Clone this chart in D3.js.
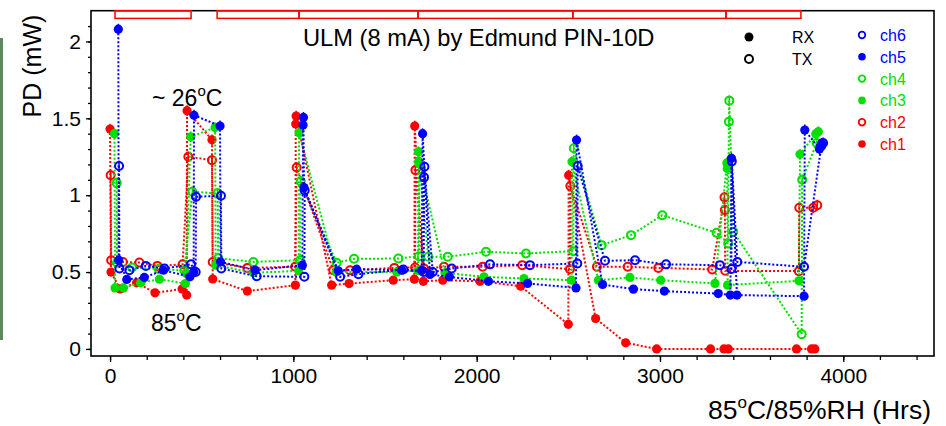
<!DOCTYPE html>
<html>
<head>
<meta charset="utf-8">
<script src="https://cdn.jsdelivr.net/npm/d3@7"></script>
<style>
  body { margin: 0; background: #fff; }
  svg { display: block; }
  text { font-family: "Liberation Sans", Arial, sans-serif; }
</style>
</head>
<body>
<div id="chart"></div>
<script>
// datos: [horas, mW]
const ch1 = [[0,1.43],[5,0.50],[55,0.39],[145,0.43],[245,0.365],[393,0.39],[418,0.35],[420,1.55],[556,1.36],[560,0.455],
  [749,0.376],[1011,0.415],[1013,1.463],[1015,1.515],[1209,0.415],[1304,0.425],[1545,0.447],[1660,0.454],[1662,1.45],
  [1709,0.44],[1815,0.447],[2018,0.44],[2240,0.408],[2500,0.16],[2502,1.13],[2649,0.198],[2813,0.04],[2982,0.0],
  [3276,0],[3349,0],[3373,0],[3745,0],[3827,0],[3845,0]];
const ch2 = [[3,1.13],[6,0.577],[70,0.566],[160,0.562],[258,0.54],[396,0.55],[427,1.25],[556,1.228],[560,0.566],
  [749,0.527],[1010,0.534],[1018,1.18],[1218,0.512],[1309,0.512],[1551,0.527],[1664,0.53],[1666,1.163],[1713,0.523],
  [1822,0.534],[2033,0.534],[2249,0.545],[2509,0.519],[2511,1.06],[2656,0.534],[2824,0.534],[2991,0.527],[3285,0.517],
  [3352,0.986],[3354,0.903],[3356,0.508],[3758,0.506],[3760,0.918],[3836,0.918],[3858,0.935]];
const ch3 = [[24,1.40],[27,0.397],[73,0.397],[167,0.43],[269,0.454],[411,0.425],[415,0.49],[440,1.38],[573,1.44],
  [576,0.545],[782,0.495],[1029,0.508],[1031,1.406],[1233,0.50],[1564,0.50],[1680,0.51],[1682,1.283],[1684,1.22],
  [1827,0.495],[2040,0.469],[2258,0.458],[2518,0.447],[2520,1.218],[2664,0.447],[2836,0.465],[3004,0.447],[3300,0.426],
  [3365,1.21],[3367,1.174],[3369,0.415],[3758,0.443],[3764,1.266],[3850,1.40],[3864,1.413]];
const ch4 = [[36,1.08],[38,0.56],[120,0.53],[265,0.52],[405,0.51],[449,1.022],[587,1.012],[590,0.59],[782,0.566],
  [1036,0.577],[1040,1.09],[1236,0.56],[1331,0.586],[1573,0.588],[1685,0.603],[1687,1.207],[1736,0.6],[1842,0.6],
  [2051,0.632],[2269,0.621],[2527,0.636],[2530,1.305],[2682,0.675],[2842,0.74],[3013,0.87],[3309,0.755],[3372,0.686],
  [3376,1.478],[3378,1.615],[3400,0.762],[3773,0.096],[3776,1.10],[3855,1.34]];
const ch5 = [[45,2.08],[47,0.577],[91,0.452],[187,0.465],[291,0.512],[436,0.469],[456,0.50],[458,1.52],[600,1.45],
  [603,0.566],[791,0.512],[1049,0.545],[1053,1.456],[1055,1.506],[1058,1.05],[1245,0.508],[1345,0.519],[1591,0.512],
  [1700,0.51],[1705,1.40],[1745,0.484],[1851,0.469],[2064,0.44],[2278,0.426],[2542,0.397],[2545,1.359],[2687,0.419],
  [2855,0.389],[3024,0.376],[3318,0.36],[3384,0.35],[3390,1.24],[3420,0.35],[3786,0.343],[3790,1.424],[3870,1.30],[3882,1.337]];
const ch6 = [[49,1.19],[51,0.523],[105,0.512],[195,0.54],[296,0.523],[442,0.55],[467,0.50],[469,0.99],[605,0.996],
  [607,0.523],[800,0.473],[1060,0.469],[1062,1.03],[1255,0.469],[1355,0.486],[1600,0.517],[1711,0.50],[1713,1.116],
  [1715,1.185],[1760,0.50],[1864,0.523],[2073,0.55],[2291,0.545],[2549,0.556],[2551,1.19],[2700,0.573],[2864,0.577],
  [3033,0.55],[3327,0.545],[3390,0.52],[3392,1.22],[3422,0.566],[3786,0.534],[3880,1.32],[3890,1.34]];

// periodos a 85C (cajas rojas de arriba)
const periodos = [[27,442],[584,1031],[1031,1680],[1680,2525],[2525,3360],[3360,3769]];

const xTicks = [0, 1000, 2000, 3000, 4000];
const yTicks = [0, 0.5, 1, 1.5, 2];

const series = [
  {name:'ch1', data:ch1, color:'#ff0000', filled:true},
  {name:'ch2', data:ch2, color:'#ff0000', filled:false},
  {name:'ch3', data:ch3, color:'#00e000', filled:true},
  {name:'ch4', data:ch4, color:'#00e000', filled:false},
  {name:'ch5', data:ch5, color:'#0000ff', filled:true},
  {name:'ch6', data:ch6, color:'#0000ff', filled:false}
];

const width = 946, height = 426;
const marginLeft = 91, marginRight = 934, marginTop = 10.7, marginBottom = 356;

const svg = d3.select('#chart').append('svg')
  .attr('width', width).attr('height', height);

// franja verde del borde izquierdo (recorte de la imagen original)
svg.append('rect').attr('x', 0).attr('y', 38).attr('width', 3).attr('height', 302)
  .attr('fill', '#5d8a5d');

const x = d3.scaleLinear().domain([-104, 4495]).range([marginLeft, marginRight]);
const y = d3.scaleLinear().domain([-0.046, 2.2]).range([marginBottom, marginTop]);

// ejes
const axisX = d3.axisBottom(x).tickValues(xTicks).tickSize(6).tickPadding(6).tickFormat(d3.format('d'));
const gx = svg.append('g').attr('transform', `translate(0,${marginBottom})`).call(axisX);
const axisXmin = d3.axisBottom(x).tickValues(d3.range(0, 4401, 200)).tickSize(4).tickFormat('');
svg.append('g').attr('transform', `translate(0,${marginBottom})`).call(axisXmin);

const axisY = d3.axisLeft(y).tickValues(yTicks).tickSize(5).tickPadding(5).tickFormat(d => d);
const gy = svg.append('g').attr('transform', `translate(${marginLeft},0)`).call(axisY);
const axisYmin = d3.axisLeft(y).tickValues(d3.range(0, 2.11, 0.1)).tickSize(3).tickFormat('');
svg.append('g').attr('transform', `translate(${marginLeft},0)`).call(axisYmin);

svg.selectAll('.domain').remove();
svg.selectAll('.tick line').attr('stroke', '#000').attr('stroke-width', 1.3);
svg.selectAll('.tick text').attr('font-size', 21).attr('fill', '#000')
  .style('font-family', '"Liberation Sans", Arial, sans-serif');

// marco
svg.append('rect').attr('x', marginLeft).attr('y', marginTop)
  .attr('width', marginRight - marginLeft).attr('height', marginBottom - marginTop)
  .attr('fill', 'none').attr('stroke', '#000').attr('stroke-width', 1.6);

// cajas rojas
svg.selectAll('.periodo').data(periodos).enter().append('rect')
  .attr('class', 'periodo')
  .attr('x', d => x(d[0])).attr('y', y(2.2))
  .attr('width', d => x(d[1]) - x(d[0])).attr('height', y(2.15) - y(2.2))
  .attr('fill', 'none').attr('stroke', '#ff0000').attr('stroke-width', 1.5);

const line = d3.line().x(d => x(d[0])).y(d => y(d[1]));
const err = 0.035;

series.forEach(s => {
  const g = svg.append('g');
  g.append('path')
    .attr('d', line(s.data))
    .attr('fill', 'none')
    .attr('stroke', s.color)
    .attr('stroke-width', 2)
    .attr('stroke-dasharray', '2,2');

  // barras de error en las medidas a temperatura ambiente
  g.selectAll('.err').data(s.data.filter(d => d[1] > 0.9)).enter().append('line')
    .attr('x1', d => x(d[0])).attr('x2', d => x(d[0]))
    .attr('y1', d => y(d[1] - err)).attr('y2', d => y(d[1] + err))
    .attr('stroke', s.color).attr('stroke-width', 1.5);

  g.selectAll('circle').data(s.data).enter().append('circle')
    .attr('cx', d => x(d[0])).attr('cy', d => y(d[1]))
    .attr('r', s.filled ? 4.6 : 4)
    .attr('fill', s.filled ? s.color : 'none')
    .attr('stroke', s.color)
    .attr('stroke-width', s.filled ? 0 : 2);
});

// titulo
svg.append('text').attr('x', 303).attr('y', 46).attr('font-size', 23.7)
  .text('ULM (8 mA) by Edmund PIN-10D');

// leyenda RX / TX
svg.append('circle').attr('cx', 749).attr('cy', 37).attr('r', 4.5).attr('fill', '#000');
svg.append('circle').attr('cx', 749).attr('cy', 59).attr('r', 4).attr('fill', 'none')
  .attr('stroke', '#000').attr('stroke-width', 2);
svg.append('text').attr('x', 792).attr('y', 43).attr('font-size', 16).text('RX');
svg.append('text').attr('x', 792).attr('y', 65).attr('font-size', 16).text('TX');

// leyenda canales
const leg = series.slice().reverse();
leg.forEach((s, i) => {
  const cy = 35 + i * 21.8;
  svg.append('circle').attr('cx', 862).attr('cy', cy)
    .attr('r', s.filled ? 3.8 : 3.3)
    .attr('fill', s.filled ? s.color : 'none')
    .attr('stroke', s.color).attr('stroke-width', s.filled ? 0 : 1.8);
  svg.append('text').attr('x', 880).attr('y', cy + 6).attr('font-size', 16)
    .attr('fill', s.color).text(s.name);
});

// anotaciones
const t26 = svg.append('text').attr('x', 152).attr('y', 106).attr('font-size', 23);
t26.append('tspan').text('~ 26');
t26.append('tspan').attr('font-size', 15).attr('dy', -10).text('o');
t26.append('tspan').attr('dy', 10).text('C');

const t85 = svg.append('text').attr('x', 151).attr('y', 331).attr('font-size', 23);
t85.append('tspan').text('85');
t85.append('tspan').attr('font-size', 15).attr('dy', -10).text('o');
t85.append('tspan').attr('dy', 10).text('C');

// etiquetas de ejes
svg.append('text')
  .attr('transform', 'translate(41,66) rotate(-90)')
  .attr('text-anchor', 'middle').attr('font-size', 25)
  .text('PD (mW)');

const xl = svg.append('text').attr('x', 931).attr('y', 419)
  .attr('text-anchor', 'end').attr('font-size', 26.5);
xl.append('tspan').text('85');
xl.append('tspan').attr('font-size', 17).attr('dy', -11).text('o');
xl.append('tspan').attr('dy', 11).text('C/85%RH (Hrs)');
</script>
</body>
</html>
